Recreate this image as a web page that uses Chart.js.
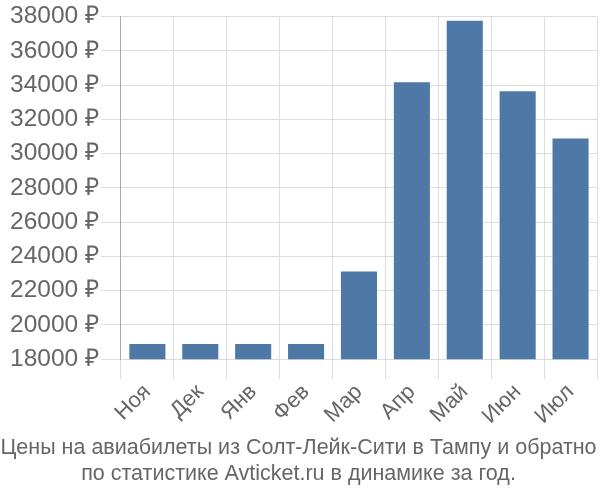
<!DOCTYPE html>
<html>
<head>
<meta charset="utf-8">
<script src="https://cdn.jsdelivr.net/npm/chart.js@4"></script>
<style>
  body { margin: 0; background: #fff; }
</style>
</head>
<body>
<canvas id="priceChart" width="600" height="500"></canvas>
<script>
const months = ['Ноя', 'Дек', 'Янв', 'Фев', 'Мар', 'Апр', 'Май', 'Июн', 'Июл'];
const prices = [18950, 18950, 18950, 18950, 23180, 34230, 37820, 33700, 30940];
const titleLines = [
  'Цены на авиабилеты из Солт-Лейк-Сити в Тампу и обратно',
  'по статистике Avticket.ru в динамике за год.'
];

const ctx = document.getElementById('priceChart').getContext('2d');
const priceChart = new Chart(ctx, {
  type: 'bar',
  data: {
    labels: months,
    datasets: [{
      data: prices,
      backgroundColor: '#4e79a7',
      borderColor: 'rgba(255,255,255,0.6)',
      borderWidth: 1,
      barPercentage: 0.9,
      categoryPercentage: 0.8
    }]
  },
  options: {
    responsive: false,
    animation: false,
    layout: { padding: { top: 4, right: 3, left: 0, bottom: 0 } },
    plugins: {
      legend: { display: false },
      tooltip: { enabled: false },
      title: {
        display: true,
        position: 'bottom',
        text: titleLines,
        color: '#666',
        font: { family: 'Liberation Sans', size: 21.5, weight: 'normal' },
        padding: { top: 8, bottom: 13 },
        lineHeight: 1.2
      }
    },
    scales: {
      x: {
        grid: { color: '#ddd', tickLength: 20, offset: true },
        border: { color: '#ddd' },
        afterFit: scale => {
          scale.paddingRight = 0;
          scale.height -= 2;
        },
        ticks: {
          color: '#666',
          padding: 0,
          font: { family: 'Liberation Sans', size: 22 },
          maxRotation: 45,
          minRotation: 45
        }
      },
      y: {
        min: 18000,
        max: 38000,
        grid: { color: '#ddd', tickLength: 20 },
        border: { color: '#aaa' },
        afterFit: scale => { scale.width += 8; },
        ticks: {
          stepSize: 2000,
          color: '#666',
          padding: 2,
          font: { family: 'Liberation Sans', size: 24.5 },
          callback: v => v + ' ₽'
        }
      }
    }
  }
});
</script>
</body>
</html>
